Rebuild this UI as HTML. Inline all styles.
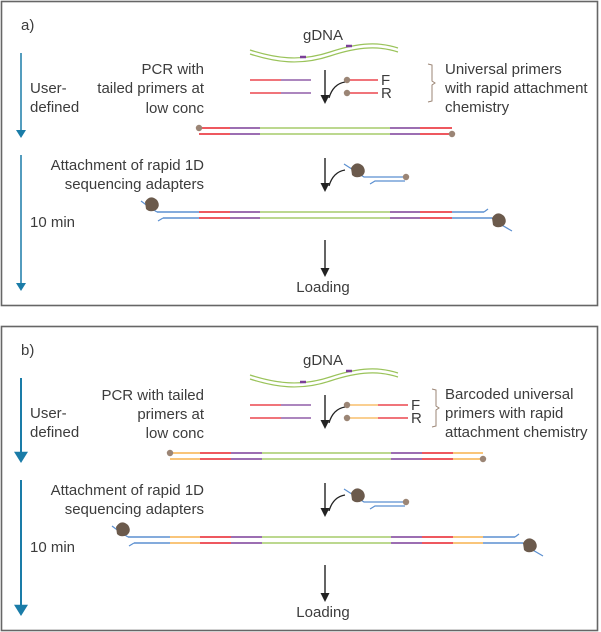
<!DOCTYPE html>
<html><head><meta charset="utf-8"><style>
html,body{margin:0;padding:0;background:#fff;}
svg{display:block;font-family:"Liberation Sans",Arial,sans-serif;}
text{fill:#3c3c3c;font-size:15px;}
</style></head><body>
<svg width="601" height="632" viewBox="0 0 601 632" xmlns="http://www.w3.org/2000/svg">
<g id="pa"></g>
<g id="pb"></g>
</svg>
<script>
const NS='http://www.w3.org/2000/svg';
function el(p,tag,attrs,txt){const e=document.createElementNS(NS,tag);for(const k in attrs)e.setAttribute(k,attrs[k]);if(txt!==undefined)e.textContent=txt;p.appendChild(e);return e;}
const C={r:'#e8202a',p:'#7b3f98',g:'#a6cc6a',o:'#f7b24f',b:'#5b8fd0',dot:'#9b8575',ad:'#6b5a4c',blue:'#1a7ca8'};
function strand(g,y,segs,w){segs.forEach(s=>{el(g,'line',{x1:s[0],x2:s[1],y1:y,y2:y,stroke:C[s[2]],'stroke-width':w||1.6});});}
function dot(g,x,y){const c=el(g,'circle',{cx:x,cy:y,r:3.2,fill:C.dot});}
function adapterBlob(g,x,y){el(g,'path',{d:`M${x-7},${y-5} q5,-8 12,-2 q4,6 -1,10 q-6,3 -10,-1 z`,fill:C.ad});}
function downArrow(g,x,y1,y2){const l=el(g,'line',{x1:x,x2:x,y1:y1,y2:y2-4,stroke:'#222','stroke-width':1.4});el(g,'path',{d:`M${x-4.5},${y2-9} L${x+4.5},${y2-9} L${x},${y2} z`,fill:'#222'});}
function curve(g,x,y){el(g,'path',{d:`M${x+20},${y} q-12,2 -16,16`,stroke:'#222','stroke-width':1.3,fill:'none'});}
function blueArrow(g,x,y1,y2,big){el(g,'line',{x1:x,x2:x,y1:y1,y2:y2-2,stroke:C.blue,'stroke-width':big?2:1.5});const s=big?7:5;el(g,'path',{d:`M${x-s},${y2-s*1.6} L${x+s},${y2-s*1.6} L${x},${y2} z`,fill:C.blue});}
function txt(g,x,y,s,anchor,name){const t=el(g,'text',{x:x,y:y,'text-anchor':anchor||'start'},s);return t;}

function panel(g,o,b){
  const box=el(g,'rect',{x:1.5,y:1.5+o,width:596,height:304,fill:'none',stroke:'#666','stroke-width':1.6});
  
  txt(g,21,30+o,b?'b)':'a)','start','panel-label');
  blueArrow(g,21,53+o,138+o,b);blueArrow(g,21,155+o,291+o,b);
  txt(g,30,93+o,'User-','start','time-label');txt(g,30,112+o,'defined','start','time-label');
  txt(g,30,227+o,'10 min','start','time-label');
  txt(g,323,40+o,'gDNA','middle','gdna-label');
  const gx=250,gy=50+o;
  ['0','4'].forEach(d=>el(g,'path',{d:`M${gx},${gy+ +d} C275,${gy+8+ +d} 300,${gy+12+ +d} 330,${gy+2+ +d} S380,${gy-8+ +d} 398,${gy-2+ +d}`,stroke:'#9ac35a','stroke-width':1.2,fill:'none'}));
  el(g,'line',{x1:300,x2:306,y1:gy+7,y2:gy+7,stroke:C.p,'stroke-width':2.5});
  el(g,'line',{x1:346,x2:352,y1:gy-4,y2:gy-4,stroke:C.p,'stroke-width':2.5});
  if(!b){txt(g,204,74+o,'PCR with','end','step-label');txt(g,204,93+o,'tailed primers at','end','step-label');}
  else{txt(g,204,75+o,'PCR with tailed','end','step-label');txt(g,204,94+o,'primers at','end','step-label');}
  txt(g,204,113+o,'low conc','end','step-label');
  const py1=80+o,py2=93+o;
  strand(g,py1,[[250,281,'r'],[281,311,'p']],1.3);strand(g,py2,[[250,281,'r'],[281,311,'p']],1.3);
  downArrow(g,325,70+o,104+o);curve(g,325,82+o);
  if(!b){strand(g,py1,[[348,378,'r']],1.3);strand(g,py2,[[348,378,'r']],1.3);}
  else{strand(g,py1,[[348,378,'o'],[378,408,'r']],1.3);strand(g,py2,[[348,378,'o'],[378,408,'r']],1.3);}
  dot(g,347,py1);dot(g,347,py2);
  const fx=b?411:381;
  txt(g,fx,py1+5,'F','start','forward-primer-label');
  txt(g,fx,py2+5,'R','start','reverse-primer-label');
  const bx=b?436:432;
  el(g,'path',{d:`M${bx-4},${64+o} L${bx},${65+o} L${bx},${81+o} L${bx+3},${83+o} L${bx},${85+o} L${bx},${101+o} L${bx-4},${102+o}`,stroke:'#9b8575','stroke-width':1,fill:'none'});
  const rt=b?['Barcoded universal','primers with rapid','attachment chemistry']:['Universal primers','with rapid attachment','chemistry'];
  rt.forEach((s,i)=>txt(g,445,74+o+19*i,s,'start','primer-description'));
  const segA=[[199,230,'r'],[230,260,'p'],[260,390,'g'],[390,420,'p'],[420,452,'r']];
  const segB=[[170,200,'o'],[200,231,'r'],[231,262,'p'],[262,391,'g'],[391,422,'p'],[422,453,'r'],[453,483,'o']];
  const seg=b?segB:segA;
  const pr=el(g,'g',{});
  strand(pr,128+o,seg);strand(pr,134+o,seg);
  dot(pr,seg[0][0],128+o);dot(pr,seg[seg.length-1][1],134+o);
  txt(g,204,170+o,'Attachment of rapid 1D','end','step-label');txt(g,204,189+o,'sequencing adapters','end','step-label');
  downArrow(g,325,158+o,192+o);curve(g,325,170+o);
  const ad=el(g,'g',{});
  el(ad,'path',{d:`M344,${164+o} L358,${173+o} L364,${177+o} L405,${177+o}`,stroke:C.b,'stroke-width':1.2,fill:'none'});
  el(ad,'path',{d:`M370,${184+o} L375,${181+o} L405,${181+o}`,stroke:C.b,'stroke-width':1.2,fill:'none'});
  adapterBlob(ad,358,173+o);dot(ad,406,177+o);
  const L=seg[0][0],R=seg[seg.length-1][1];
  const fin=el(g,'g',{});
  strand(fin,212+o,[[L-42,L,'b']].concat(seg).concat([[R,R+32,'b']]));
  strand(fin,218+o,[[L-36,L,'b']].concat(seg).concat([[R,R+40,'b']]));
  el(fin,'path',{d:`M${L-42},${212+o} L${L-50},${207+o} L${L-58},${201+o}`,stroke:C.b,'stroke-width':1.2,fill:'none'});
  el(fin,'line',{x1:L-36,x2:L-41,y1:218+o,y2:221+o,stroke:C.b,'stroke-width':1.2});
  el(fin,'line',{x1:R+32,x2:R+36,y1:212+o,y2:209+o,stroke:C.b,'stroke-width':1.2});
  el(fin,'path',{d:`M${R+40},${218+o} L${R+48},${224+o} L${R+60},${231+o}`,stroke:C.b,'stroke-width':1.2,fill:'none'});
  adapterBlob(fin,L-47,207+o);adapterBlob(fin,R+47,223+o);
  downArrow(g,325,240+o,277+o);
  txt(g,323,292+o,'Loading','middle','loading-label');
}
panel(document.getElementById('pa'),0,false);
panel(document.getElementById('pb'),325,true);
</script>
</body></html>
